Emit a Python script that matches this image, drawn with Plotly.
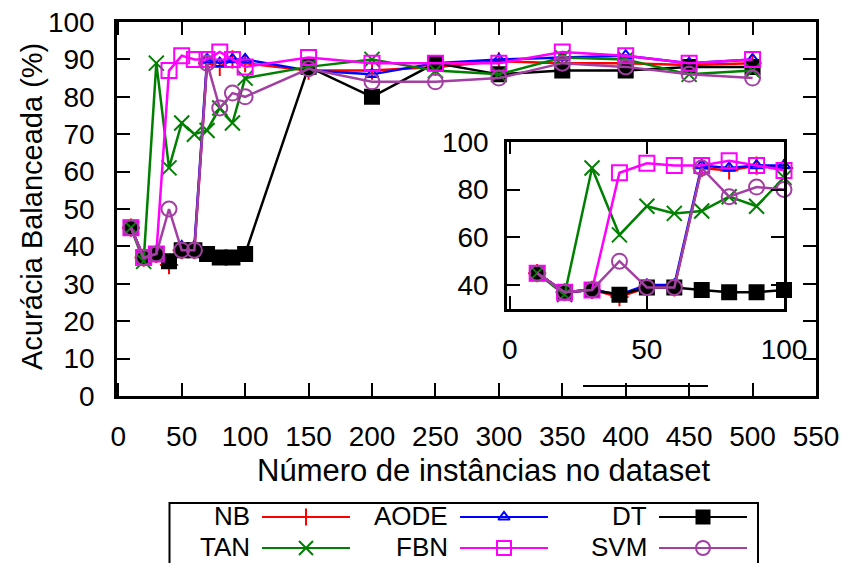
import plotly.graph_objects as go

# ---------------- data ----------------
x_vals = [10, 20, 30, 40, 50, 60, 70, 80, 90, 100, 150, 200, 250, 300, 350, 400, 450, 500]

nb   = [45, 37, 38, 35, 39, 39, 89, 88, 90, 89, 87, 87, 88, 89.5, 89, 89, 88.5, 89]
aode = [45, 37, 38, 36, 40, 40, 90, 89, 90, 90, 87, 86, 89, 90, 90.5, 91, 89, 90]
dt   = [45, 37, 38, 36, 39, 39, 38, 37, 37, 38, 88, 80, 89, 86, 87, 87, 88, 88]
tan  = [45, 36, 89, 61, 73, 70, 71, 77, 73, 85, 88, 90, 87, 86, 90.5, 90, 86, 87]
fbn  = [45, 37, 38, 87, 91, 90, 90, 92, 90, 88, 90.5, 89, 89, 89, 92, 91, 89, 90]
svm  = [45, 37, 38, 50, 39, 39, 89, 77, 81, 80, 87.5, 84, 84, 85, 89, 88, 86, 85]

names = ["NB", "AODE", "DT", "TAN", "FBN", "SVM"]
series = [nb, aode, dt, tan, fbn, svm]
colors = ["#ff0000", "#0000ff", "#000000", "#008000", "#ff00ff", "#a33fa3"]
symbols = ["cross-thin", "triangle-up-open", "square", "x-thin", "square-open", "circle-open"]
msizes = [13, 11, 14, 15, 15, 15]

x_ticks_main = list(range(0, 551, 50))
y_ticks_main = list(range(0, 101, 10))
x_ticks_inset = [0, 50, 100]
y_ticks_inset = [40, 60, 80, 100]

x_title = "Número de instâncias no dataset"
y_title = "Acurácia Balanceada (%)"

# ---------------- layout geometry (pixels) ----------------
W, H = 849, 563
FONT = "Liberation Sans, Arial, Helvetica, sans-serif"
FS = 28

def px(x):
    return x / W

def py(y):
    return 1 - y / H

main_dom_x = [px(117), px(816)]
main_dom_y = [py(396), py(22)]
ins_dom_x = [px(507), px(784)]
ins_dom_y = [py(309), py(141.7)]
leg_dom_y = [0, py(496)]

fig = go.Figure()

def marker_for(i):
    return dict(symbol=symbols[i], size=msizes[i], color=colors[i],
                line=dict(color=colors[i], width=2))

# main traces
for i, (nm, ys) in enumerate(zip(names, series)):
    fig.add_trace(go.Scatter(
        x=x_vals, y=ys, mode="lines+markers", name=nm,
        line=dict(color=colors[i], width=2.5),
        marker=marker_for(i), showlegend=False, cliponaxis=False,
        xaxis="x", yaxis="y"))

# inset traces (x <= 100)
for i, (nm, ys) in enumerate(zip(names, series)):
    xs = [xv for xv in x_vals if xv <= 100]
    yy = [v for xv, v in zip(x_vals, ys) if xv <= 100]
    fig.add_trace(go.Scatter(
        x=xs, y=yy, mode="lines+markers", name=nm,
        line=dict(color=colors[i], width=2.5),
        marker=marker_for(i), showlegend=False, cliponaxis=False,
        xaxis="x2", yaxis="y2"))

# custom gnuplot-style key: text, then line sample with marker
col_text_right = [251, 449, 648]
col_sample = [(262, 350), (460, 548), (659, 747)]
row_y = [517, 548]
text_y = [516, 547]
for i, nm in enumerate(names):
    r, c = divmod(i, 3)
    x0, x1 = col_sample[c]
    yy = row_y[r]
    fig.add_trace(go.Scatter(
        x=[x0, x1], y=[yy, yy], mode="lines",
        line=dict(color=colors[i], width=2.2),
        showlegend=False, hoverinfo="skip", xaxis="x3", yaxis="y3"))
    m = marker_for(i)
    m["size"] = msizes[i] - 1
    fig.add_trace(go.Scatter(
        x=[(x0 + x1) / 2], y=[yy], mode="markers", marker=m,
        showlegend=False, hoverinfo="skip", cliponaxis=False,
        xaxis="x3", yaxis="y3"))
    fig.add_annotation(
        x=px(col_text_right[c]), y=py(text_y[r]), xref="paper", yref="paper",
        text=nm, showarrow=False, xanchor="right", yanchor="middle",
        borderpad=0,
        font=dict(family=FONT, size=26, color="black"))

axis_common = dict(
    showline=True, linecolor="black", linewidth=2.5, mirror="ticks",
    ticks="inside", ticklen=13, tickwidth=2, tickcolor="black",
    showgrid=False, zeroline=False, automargin=False,
    tickfont=dict(family=FONT, size=FS, color="black"),
)

fig.update_layout(
    width=W, height=H,
    margin=dict(l=0, r=0, t=0, b=0, autoexpand=False),
    paper_bgcolor="white", plot_bgcolor="white",
    showlegend=False,
    xaxis=dict(domain=main_dom_x, range=[-1, 550], tickvals=x_ticks_main,
               anchor="y", ticklabelstandoff=14, **axis_common),
    yaxis=dict(domain=main_dom_y, range=[0, 100], tickvals=y_ticks_main,
               anchor="x", ticklabelstandoff=14, **axis_common),
    xaxis2=dict(domain=ins_dom_x, range=[-1, 100], tickvals=x_ticks_inset,
                anchor="y2", ticklabelstandoff=14, **axis_common),
    yaxis2=dict(domain=ins_dom_y, range=[30, 100], tickvals=y_ticks_inset,
                anchor="x2", ticklabelstandoff=10, **axis_common),
    xaxis3=dict(domain=[0, 1], range=[0, W], visible=False, anchor="y3",
                fixedrange=True, automargin=False),
    yaxis3=dict(domain=leg_dom_y, range=[H, 496], visible=False, anchor="x3",
                fixedrange=True, automargin=False),
)

# axis titles
fig.add_annotation(x=px(484), y=py(470), xref="paper", yref="paper",
                   text=x_title, showarrow=False, xanchor="center", yanchor="middle",
                   font=dict(family=FONT, size=31, color="black"))
fig.add_annotation(x=px(32), y=py(207), xref="paper", yref="paper",
                   text=y_title, showarrow=False, textangle=-90,
                   xanchor="center", yanchor="middle",
                   font=dict(family=FONT, size=29, color="black"))

# key box and stray segment
fig.add_shape(type="rect", xref="paper", yref="paper",
              x0=px(169.5), x1=px(758), y0=py(575), y1=py(503),
              line=dict(color="black", width=2))
fig.add_shape(type="line", xref="paper", yref="paper",
              x0=px(583), x1=px(708), y0=py(386), y1=py(386),
              line=dict(color="black", width=2))

fig.write_html("out.html")
